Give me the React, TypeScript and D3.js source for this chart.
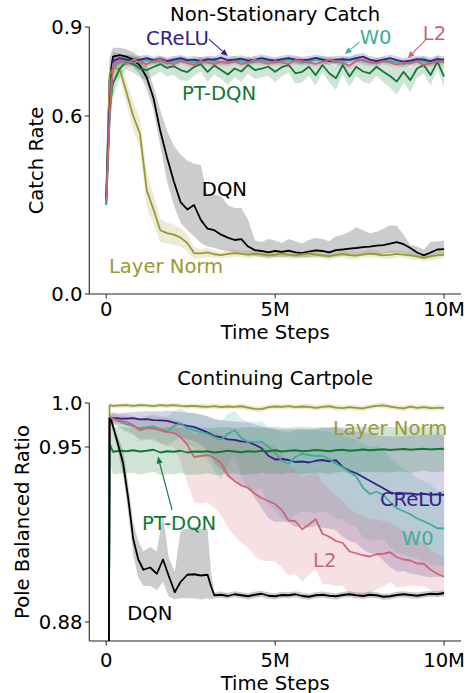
import React from "react";
import * as d3 from "d3";

const FONT = "'DejaVu Sans', sans-serif";
const FS = 19.6;

const COLORS: Record<string, string> = {
  DQN: "#000000",
  "Layer Norm": "#999933",
  CReLU: "#332288",
  W0: "#44AA99",
  L2: "#CC6677",
  "PT-DQN": "#117733",
};

// time in millions of steps
const timeGrid = [0, 0.1, 0.2, 0.4, 0.6, 0.8, 1, 1.2, 1.4, 1.6, 1.8, 2, 2.2, 2.4, 2.6, 2.8, 3, 3.2, 3.4, 3.6, 3.8, 4, 4.2, 4.4, 4.6, 4.8, 5, 5.2, 5.4, 5.6, 5.8, 6, 6.2, 6.4, 6.6, 6.8, 7, 7.2, 7.4, 7.6, 7.8, 8, 8.2, 8.4, 8.6, 8.8, 9, 9.2, 9.4, 9.6, 9.8, 10];
const dqnCartTime = [0, 0.1, 0.15, 0.3, 0.5, 0.65, 0.8, 0.95, 1.1, 1.3, 1.5, 1.68, 1.85, 2.03, 2.2, 2.4, 2.6, 2.8, 3, 3.1, 3.2, 3.4, 3.6, 3.8, 4, 4.2, 4.4, 4.6, 4.8, 5, 5.2, 5.4, 5.6, 5.8, 6, 6.2, 6.4, 6.6, 6.8, 7, 7.2, 7.4, 7.6, 7.8, 8, 8.2, 8.4, 8.6, 8.8, 9, 9.2, 9.4, 9.6, 9.8, 10];

const xTicks = [0, 5, 10];
const xTickLabels = ["0", "5M", "10M"];
const catchTicks = [0, 0.6, 0.9];
const catchTickLabels = ["0.0", "0.6", "0.9"];
const cartTicks = [0.88, 0.95, 1.0];
const cartTickLabels = ["0.88", "0.95", "1.0"];

// ---------- Non-Stationary Catch ----------
const catchCReLU = [0.32, 0.62, 0.785, 0.795, 0.79, 0.786, 0.79, 0.795, 0.788, 0.792, 0.785, 0.79, 0.795, 0.788, 0.79, 0.785, 0.792, 0.79, 0.797, 0.788, 0.79, 0.793, 0.787, 0.79, 0.795, 0.79, 0.787, 0.792, 0.795, 0.79, 0.788, 0.79, 0.796, 0.79, 0.785, 0.79, 0.792, 0.789, 0.795, 0.8, 0.79, 0.785, 0.79, 0.795, 0.788, 0.783, 0.787, 0.792, 0.79, 0.785, 0.792, 0.79];
const catchL2 = [0.31, 0.6, 0.775, 0.785, 0.775, 0.79, 0.78, 0.775, 0.785, 0.79, 0.78, 0.775, 0.785, 0.778, 0.772, 0.785, 0.78, 0.775, 0.782, 0.778, 0.785, 0.775, 0.78, 0.79, 0.782, 0.776, 0.785, 0.78, 0.776, 0.788, 0.785, 0.78, 0.776, 0.782, 0.79, 0.785, 0.778, 0.77, 0.785, 0.79, 0.782, 0.778, 0.785, 0.78, 0.772, 0.78, 0.776, 0.785, 0.772, 0.778, 0.785, 0.78];
const catchW0 = [0.3, 0.58, 0.765, 0.78, 0.785, 0.78, 0.785, 0.79, 0.782, 0.785, 0.778, 0.785, 0.79, 0.785, 0.78, 0.782, 0.788, 0.785, 0.78, 0.785, 0.79, 0.785, 0.78, 0.782, 0.788, 0.785, 0.78, 0.785, 0.79, 0.786, 0.78, 0.785, 0.788, 0.792, 0.785, 0.78, 0.785, 0.79, 0.795, 0.785, 0.78, 0.782, 0.788, 0.785, 0.78, 0.776, 0.782, 0.788, 0.785, 0.78, 0.785, 0.783];
const catchNarrowSpread = [0.01, 0.06, 0.03, 0.015, 0.012, 0.012, 0.013, 0.012, 0.011, 0.012, 0.013, 0.012, 0.011, 0.012, 0.012, 0.013, 0.012, 0.011, 0.012, 0.013, 0.012, 0.012, 0.011, 0.012, 0.013, 0.012, 0.012, 0.011, 0.012, 0.013, 0.012, 0.012, 0.011, 0.012, 0.013, 0.012, 0.012, 0.011, 0.012, 0.013, 0.012, 0.012, 0.011, 0.012, 0.013, 0.012, 0.012, 0.011, 0.012, 0.013, 0.012, 0.012];
const catchPTDQN = [0.3, 0.62, 0.71, 0.76, 0.783, 0.775, 0.76, 0.755, 0.765, 0.775, 0.762, 0.768, 0.755, 0.748, 0.765, 0.775, 0.749, 0.77, 0.755, 0.74, 0.76, 0.75, 0.772, 0.755, 0.76, 0.766, 0.749, 0.765, 0.772, 0.744, 0.749, 0.766, 0.738, 0.772, 0.744, 0.727, 0.772, 0.733, 0.766, 0.75, 0.744, 0.766, 0.749, 0.735, 0.716, 0.749, 0.721, 0.76, 0.772, 0.738, 0.783, 0.733];
const catchPTDQNSpread = [0.02, 0.06, 0.05, 0.03, 0.025, 0.03, 0.03, 0.035, 0.03, 0.025, 0.03, 0.03, 0.035, 0.03, 0.03, 0.025, 0.035, 0.03, 0.03, 0.035, 0.03, 0.035, 0.03, 0.03, 0.03, 0.03, 0.035, 0.03, 0.025, 0.035, 0.035, 0.03, 0.035, 0.025, 0.03, 0.04, 0.03, 0.035, 0.03, 0.035, 0.035, 0.03, 0.035, 0.04, 0.045, 0.035, 0.04, 0.03, 0.03, 0.035, 0.025, 0.035];
const catchDQN = [0.32, 0.72, 0.8, 0.805, 0.8, 0.79, 0.77, 0.73, 0.66, 0.55, 0.46, 0.38, 0.31, 0.285, 0.3, 0.25, 0.22, 0.215, 0.2, 0.19, 0.182, 0.185, 0.16, 0.148, 0.145, 0.14, 0.145, 0.142, 0.146, 0.14, 0.138, 0.143, 0.147, 0.145, 0.14, 0.148, 0.15, 0.153, 0.155, 0.158, 0.16, 0.163, 0.165, 0.17, 0.175, 0.168, 0.155, 0.14, 0.13, 0.14, 0.15, 0.151];
const catchDQNLow = [0.3, 0.65, 0.77, 0.78, 0.775, 0.765, 0.74, 0.69, 0.62, 0.5, 0.38, 0.3, 0.24, 0.215, 0.195, 0.172, 0.16, 0.155, 0.148, 0.145, 0.14, 0.135, 0.13, 0.128, 0.125, 0.123, 0.125, 0.124, 0.126, 0.123, 0.122, 0.124, 0.126, 0.125, 0.122, 0.126, 0.128, 0.13, 0.13, 0.132, 0.133, 0.135, 0.136, 0.138, 0.14, 0.138, 0.13, 0.122, 0.118, 0.122, 0.13, 0.132];
const catchDQNHigh = [0.34, 0.8, 0.83, 0.83, 0.825, 0.815, 0.8, 0.77, 0.7, 0.62, 0.55, 0.5, 0.47, 0.45, 0.44, 0.435, 0.33, 0.335, 0.33, 0.3, 0.29, 0.29, 0.25, 0.18, 0.175, 0.185, 0.18, 0.172, 0.185, 0.178, 0.17, 0.182, 0.19, 0.185, 0.178, 0.195, 0.2, 0.21, 0.225, 0.215, 0.205, 0.21, 0.22, 0.232, 0.23, 0.2, 0.165, 0.16, 0.15, 0.175, 0.178, 0.18];
const catchLayerNorm = [0.3, 0.74, 0.762, 0.758, 0.68, 0.6, 0.54, 0.35, 0.285, 0.215, 0.205, 0.2, 0.19, 0.172, 0.138, 0.137, 0.14, 0.134, 0.131, 0.135, 0.138, 0.135, 0.133, 0.136, 0.134, 0.13, 0.133, 0.136, 0.132, 0.13, 0.134, 0.137, 0.133, 0.13, 0.128, 0.132, 0.135, 0.131, 0.129, 0.133, 0.136, 0.134, 0.13, 0.132, 0.135, 0.133, 0.13, 0.127, 0.122, 0.128, 0.13, 0.132];
const catchLayerNormSpread = [0.01, 0.04, 0.03, 0.03, 0.04, 0.05, 0.05, 0.06, 0.05, 0.04, 0.035, 0.035, 0.03, 0.03, 0.02, 0.015, 0.015, 0.012, 0.01, 0.014, 0.012, 0.01, 0.014, 0.012, 0.01, 0.014, 0.012, 0.01, 0.014, 0.012, 0.01, 0.014, 0.012, 0.01, 0.014, 0.012, 0.01, 0.014, 0.012, 0.01, 0.014, 0.012, 0.01, 0.014, 0.012, 0.01, 0.014, 0.012, 0.01, 0.014, 0.012, 0.012];

// ---------- Continuing Cartpole ----------
const cartLayerNorm = [0.5, 0.9975, 0.9968, 0.9972, 0.9975, 0.9968, 0.9975, 0.9972, 0.9965, 0.9975, 0.997, 0.9975, 0.9968, 0.9963, 0.9968, 0.996, 0.9957, 0.9965, 0.9953, 0.996, 0.9956, 0.9963, 0.9948, 0.9934, 0.993, 0.9953, 0.996, 0.9957, 0.9965, 0.9953, 0.996, 0.9957, 0.9945, 0.9956, 0.9963, 0.9948, 0.9942, 0.9953, 0.9945, 0.9938, 0.9957, 0.9968, 0.9972, 0.996, 0.9948, 0.9938, 0.996, 0.9945, 0.9953, 0.9942, 0.9945, 0.9944];
const cartLayerNormSpread = [0.003, 0.0025, 0.0025, 0.0026, 0.0025, 0.0027, 0.0026, 0.0025, 0.0027, 0.0026, 0.0028, 0.0026, 0.0027, 0.0028, 0.0027, 0.0028, 0.0029, 0.0028, 0.003, 0.0029, 0.0028, 0.003, 0.0031, 0.0032, 0.0032, 0.003, 0.0029, 0.003, 0.0029, 0.0031, 0.003, 0.0031, 0.0032, 0.003, 0.0031, 0.0032, 0.0033, 0.0031, 0.0032, 0.0033, 0.003, 0.0029, 0.0028, 0.003, 0.0032, 0.0033, 0.003, 0.0032, 0.0031, 0.0032, 0.0031, 0.0032];
const cartCReLU = [0.5, 0.9832, 0.9832, 0.9824, 0.9822, 0.9827, 0.9814, 0.9817, 0.9806, 0.9802, 0.9796, 0.9777, 0.976, 0.974, 0.9728, 0.9698, 0.9666, 0.9624, 0.9611, 0.9586, 0.9581, 0.9564, 0.9559, 0.9525, 0.9495, 0.9465, 0.945, 0.9452, 0.9448, 0.944, 0.9442, 0.9438, 0.9445, 0.9448, 0.9443, 0.9447, 0.942, 0.9405, 0.9395, 0.938, 0.9365, 0.935, 0.9335, 0.932, 0.9311, 0.9314, 0.9314, 0.931, 0.9313, 0.9309, 0.9311, 0.9308];
const cartCReLUSpread = [0.003, 0.004, 0.006, 0.006, 0.007, 0.007, 0.009, 0.009, 0.01, 0.01, 0.012, 0.013, 0.014, 0.015, 0.016, 0.017, 0.018, 0.019, 0.02, 0.021, 0.021, 0.022, 0.022, 0.023, 0.024, 0.025, 0.025, 0.025, 0.025, 0.026, 0.026, 0.026, 0.026, 0.027, 0.027, 0.028, 0.028, 0.028, 0.028, 0.029, 0.029, 0.028, 0.029, 0.03, 0.031, 0.031, 0.032, 0.032, 0.033, 0.033, 0.033, 0.033];
const cartW0 = [0.5, 0.9832, 0.9824, 0.9787, 0.9756, 0.9737, 0.9713, 0.9725, 0.9734, 0.9702, 0.968, 0.9737, 0.9771, 0.9713, 0.9688, 0.9669, 0.9651, 0.9613, 0.9581, 0.9651, 0.9691, 0.9601, 0.9558, 0.9558, 0.9562, 0.9502, 0.9477, 0.9444, 0.9433, 0.946, 0.9473, 0.9468, 0.9464, 0.9465, 0.9452, 0.9433, 0.9419, 0.9399, 0.9382, 0.9337, 0.9312, 0.9321, 0.9309, 0.928, 0.9255, 0.9243, 0.9231, 0.9214, 0.9203, 0.919, 0.9175, 0.9174];
const cartW0Spread = [0.003, 0.004, 0.006, 0.007, 0.009, 0.01, 0.012, 0.013, 0.014, 0.015, 0.016, 0.017, 0.017, 0.018, 0.019, 0.02, 0.02, 0.021, 0.021, 0.022, 0.022, 0.022, 0.023, 0.023, 0.023, 0.023, 0.023, 0.023, 0.023, 0.023, 0.023, 0.023, 0.023, 0.022, 0.022, 0.022, 0.021, 0.021, 0.02, 0.02, 0.019, 0.019, 0.018, 0.018, 0.018, 0.017, 0.017, 0.016, 0.016, 0.016, 0.015, 0.015];
const cartL2 = [0.5, 0.9824, 0.9818, 0.9801, 0.9783, 0.975, 0.9688, 0.9713, 0.971, 0.9688, 0.9669, 0.9661, 0.9613, 0.9527, 0.946, 0.9464, 0.9468, 0.9456, 0.9436, 0.9387, 0.9364, 0.9346, 0.9336, 0.9313, 0.9296, 0.9284, 0.9272, 0.9247, 0.9206, 0.9203, 0.9171, 0.919, 0.9211, 0.9153, 0.9141, 0.9124, 0.9116, 0.9082, 0.9075, 0.9067, 0.9062, 0.9071, 0.9073, 0.9079, 0.9059, 0.905, 0.9046, 0.9034, 0.9033, 0.9009, 0.8993, 0.8981];
const cartL2Spread = [0.003, 0.004, 0.006, 0.007, 0.009, 0.01, 0.012, 0.013, 0.014, 0.015, 0.016, 0.016, 0.017, 0.017, 0.018, 0.019, 0.019, 0.02, 0.021, 0.021, 0.022, 0.023, 0.024, 0.025, 0.025, 0.024, 0.023, 0.023, 0.022, 0.021, 0.021, 0.02, 0.02, 0.02, 0.019, 0.018, 0.017, 0.017, 0.016, 0.016, 0.015, 0.014, 0.013, 0.012, 0.012, 0.011, 0.01, 0.009, 0.009, 0.008, 0.008, 0.008];
const cartPTDQN = [0.5, 0.9539, 0.9481, 0.9485, 0.9483, 0.9487, 0.9482, 0.9485, 0.9489, 0.9478, 0.9483, 0.9481, 0.9485, 0.9478, 0.9482, 0.9481, 0.9483, 0.9478, 0.9481, 0.9485, 0.9482, 0.9479, 0.9483, 0.9481, 0.9485, 0.9483, 0.9487, 0.9482, 0.9485, 0.9487, 0.9483, 0.9485, 0.9488, 0.9486, 0.9483, 0.9487, 0.9489, 0.9485, 0.9487, 0.949, 0.9487, 0.9489, 0.9491, 0.9488, 0.949, 0.9492, 0.9489, 0.9491, 0.9493, 0.949, 0.9492, 0.9493];
const cartPTDQNSpreadUp = [0.024, 0.024, 0.024, 0.0245, 0.0235, 0.024, 0.0245, 0.024, 0.0235, 0.024, 0.0245, 0.024, 0.0235, 0.024, 0.0245, 0.024, 0.0235, 0.024, 0.0245, 0.024, 0.0235, 0.024, 0.0245, 0.024, 0.0235, 0.024, 0.0245, 0.024, 0.0235, 0.024, 0.0245, 0.024, 0.0235, 0.024, 0.0245, 0.024, 0.0235, 0.024, 0.0245, 0.024, 0.0235, 0.024, 0.0245, 0.024, 0.0235, 0.024, 0.0245, 0.024, 0.0235, 0.024, 0.0245, 0.024];
const cartPTDQNSpreadDown = [0.009, 0.009, 0.009, 0.0092, 0.0088, 0.009, 0.0092, 0.009, 0.0088, 0.009, 0.0092, 0.009, 0.0088, 0.009, 0.0092, 0.009, 0.0088, 0.009, 0.0092, 0.009, 0.0088, 0.009, 0.0092, 0.009, 0.0088, 0.009, 0.0092, 0.009, 0.0088, 0.009, 0.0092, 0.009, 0.0088, 0.009, 0.0092, 0.009, 0.0088, 0.009, 0.0092, 0.009, 0.0088, 0.009, 0.0092, 0.009, 0.0088, 0.009, 0.0092, 0.009, 0.0088, 0.009, 0.0092, 0.009];
const cartDQN = [0.5, 0.9824, 0.9801, 0.9601, 0.9436, 0.9296, 0.9132, 0.905, 0.9009, 0.9018, 0.8993, 0.905, 0.8985, 0.8919, 0.896, 0.8989, 0.8991, 0.8986, 0.8989, 0.8944, 0.8907, 0.8909, 0.8904, 0.8911, 0.8907, 0.8903, 0.8909, 0.8913, 0.8905, 0.8903, 0.8908, 0.8907, 0.8911, 0.8904, 0.8901, 0.8907, 0.8909, 0.8905, 0.8903, 0.8908, 0.8911, 0.8907, 0.8904, 0.8909, 0.8907, 0.8901, 0.8903, 0.8908, 0.8911, 0.8908, 0.8905, 0.8909, 0.8913, 0.8911, 0.8916];
const cartDQNLow = [0.49, 0.9787, 0.9755, 0.9539, 0.9387, 0.9239, 0.9067, 0.8977, 0.8944, 0.8944, 0.8927, 0.896, 0.8903, 0.889, 0.8895, 0.8895, 0.8895, 0.889, 0.8895, 0.889, 0.8895, 0.8896, 0.8893, 0.8899, 0.8895, 0.889, 0.8896, 0.89, 0.8893, 0.889, 0.8896, 0.8895, 0.8899, 0.8892, 0.8889, 0.8895, 0.8897, 0.8893, 0.889, 0.8896, 0.8899, 0.8895, 0.8892, 0.8897, 0.8895, 0.8889, 0.889, 0.8896, 0.8899, 0.8895, 0.8893, 0.8897, 0.89, 0.8899, 0.8903];
const cartDQNHigh = [0.51, 0.9862, 0.9849, 0.9663, 0.9485, 0.9354, 0.9198, 0.9124, 0.9083, 0.91, 0.9083, 0.9231, 0.9059, 0.9001, 0.9165, 0.9173, 0.9182, 0.9173, 0.9173, 0.9001, 0.8919, 0.8922, 0.8917, 0.8923, 0.8919, 0.8915, 0.8922, 0.8925, 0.8918, 0.8915, 0.8921, 0.8919, 0.8923, 0.8917, 0.8913, 0.8919, 0.8922, 0.8918, 0.8915, 0.8921, 0.8923, 0.8919, 0.8917, 0.8922, 0.8919, 0.8913, 0.8915, 0.8921, 0.8923, 0.892, 0.8918, 0.8922, 0.8925, 0.8923, 0.8927];

type Series = { name: string; t: number[]; mean: number[]; lo: number[]; hi: number[] };

function spreadSeries(name: string, t: number[], mean: number[], up: number[], down: number[] = up): Series {
  const at = (a: number[], i: number) => a[i] ?? a[a.length - 1];
  return {
    name,
    t,
    mean,
    lo: mean.map((v, i) => v - at(down, i)),
    hi: mean.map((v, i) => v + at(up, i)),
  };
}

const catchSeries: Series[] = [
  { name: "DQN", t: timeGrid, mean: catchDQN, lo: catchDQNLow, hi: catchDQNHigh },
  spreadSeries("Layer Norm", timeGrid, catchLayerNorm, catchLayerNormSpread),
  spreadSeries("PT-DQN", timeGrid, catchPTDQN, catchPTDQNSpread),
  spreadSeries("W0", timeGrid, catchW0, catchNarrowSpread),
  spreadSeries("CReLU", timeGrid, catchCReLU, catchNarrowSpread),
  spreadSeries("L2", timeGrid, catchL2, catchNarrowSpread),
];

const cartSeries: Series[] = [
  spreadSeries("Layer Norm", timeGrid, cartLayerNorm, cartLayerNormSpread),
  spreadSeries("CReLU", timeGrid, cartCReLU, cartCReLUSpread),
  spreadSeries("W0", timeGrid, cartW0, cartW0Spread),
  spreadSeries("L2", timeGrid, cartL2, cartL2Spread),
  spreadSeries("PT-DQN", timeGrid, cartPTDQN, cartPTDQNSpreadUp, cartPTDQNSpreadDown),
  { name: "DQN", t: dqnCartTime, mean: cartDQN, lo: cartDQNLow, hi: cartDQNHigh },
];

type Note = { text: string; t: number; v: number; from?: [number, number]; to?: [number, number] };

const catchNotes: Note[] = [
  { text: "CReLU", t: 1.18, v: 0.839, from: [3.04, 0.859], to: [3.6, 0.802] },
  { text: "W0", t: 7.5, v: 0.843, from: [7.5, 0.849], to: [7.06, 0.809] },
  { text: "L2", t: 9.37, v: 0.856, from: [9.45, 0.856], to: [8.92, 0.795] },
  { text: "PT-DQN", t: 2.24, v: 0.654 },
  { text: "DQN", t: 2.83, v: 0.33 },
  { text: "Layer Norm", t: 0.08, v: 0.071 },
];

const cartNotes: Note[] = [
  { text: "Layer Norm", t: 6.71, v: 0.9636 },
  { text: "CReLU", t: 8.1, v: 0.9264 },
  { text: "PT-DQN", t: 1.06, v: 0.9168, from: [1.95, 0.9248], to: [1.53, 0.9462] },
  { text: "W0", t: 8.75, v: 0.9108 },
  { text: "L2", t: 6.12, v: 0.902 },
  { text: "DQN", t: 0.62, v: 0.8808 },
];

type PanelCfg = {
  id: string;
  top: number;
  bottom: number;
  yDomain: number[];
  yRange: number[];
  yTicks: number[];
  yTickLabels: string[];
  title: string;
  titleY: number;
  ylabel: string;
  ylabelX: number;
  xlabelY: number;
  xTickLabelY: number;
  series: Series[];
  notes: Note[];
};

const X_LEFT = 89.3;
const X_RIGHT = 461;
const X_DOMAIN: [number, number] = [-0.5, 10.5];

function Panel({ cfg }: { cfg: PanelCfg }) {
  const x = d3.scaleLinear().domain(X_DOMAIN).range([X_LEFT, X_RIGHT]);
  const y = d3.scaleLinear().domain(cfg.yDomain).range(cfg.yRange);
  const mkLine = (s: Series) =>
    d3
      .line<number>()
      .x((d) => x(s.t[d]))
      .y((d) => y(s.mean[d]))(d3.range(Math.min(s.t.length, s.mean.length)));
  const mkArea = (s: Series) =>
    d3
      .area<number>()
      .x((d) => x(s.t[d]))
      .y0((d) => y(s.lo[d]))
      .y1((d) => y(s.hi[d]))(d3.range(Math.min(s.t.length, s.lo.length, s.hi.length)));
  const clipId = `clip-${cfg.id}`;
  const cx = (X_LEFT + X_RIGHT) / 2;
  return (
    <g>
      <defs>
        <clipPath id={clipId}>
          <rect x={X_LEFT} y={cfg.top - 5} width={X_RIGHT - X_LEFT} height={cfg.bottom - cfg.top + 5} />
        </clipPath>
      </defs>
      <g clipPath={`url(#${clipId})`}>
        {cfg.series.map((s) => (
          <path key={"b" + s.name} d={mkArea(s) || ""} fill={COLORS[s.name]} fillOpacity={0.2} stroke="none" />
        ))}
        {cfg.series.map((s) => (
          <path
            key={"l" + s.name}
            d={mkLine(s) || ""}
            fill="none"
            stroke={COLORS[s.name]}
            strokeWidth={1.8}
            strokeLinejoin="round"
          />
        ))}
      </g>
      <line x1={X_LEFT} x2={X_LEFT} y1={cfg.top} y2={cfg.bottom} stroke="#222" strokeWidth={1.1} />
      <line x1={X_LEFT} x2={X_RIGHT} y1={cfg.bottom} y2={cfg.bottom} stroke="#222" strokeWidth={1.1} />
      {cfg.yTicks.map((tv, i) => (
        <g key={"yt" + i}>
          <line x1={X_LEFT - 4.5} x2={X_LEFT} y1={y(tv)} y2={y(tv)} stroke="#222" strokeWidth={1} />
          <text x={82.5} y={y(tv) + 7} textAnchor="end" fontSize={FS} fill="#000">
            {cfg.yTickLabels[i]}
          </text>
        </g>
      ))}
      {xTicks.map((tv, i) => (
        <g key={"xt" + i}>
          <line x1={x(tv)} x2={x(tv)} y1={cfg.bottom} y2={cfg.bottom + 4.5} stroke="#222" strokeWidth={1} />
          <text x={x(tv)} y={cfg.xTickLabelY} textAnchor="middle" fontSize={FS} fill="#000">
            {xTickLabels[i]}
          </text>
        </g>
      ))}
      <text x={cx} y={cfg.xlabelY} textAnchor="middle" fontSize={FS} fill="#000">
        Time Steps
      </text>
      <text x={cx} y={cfg.titleY} textAnchor="middle" fontSize={FS} fill="#000">
        {cfg.title}
      </text>
      <text
        transform={`translate(${cfg.ylabelX},${(cfg.top + cfg.bottom) / 2}) rotate(-90)`}
        textAnchor="middle"
        fontSize={FS}
        fill="#000"
      >
        {cfg.ylabel}
      </text>
      {cfg.notes.map((n, i) => {
        const color = COLORS[n.text];
        let arrow = null;
        if (n.from && n.to) {
          const x1 = x(n.from[0]);
          const y1 = y(n.from[1]);
          const x2 = x(n.to[0]);
          const y2 = y(n.to[1]);
          const ang = Math.atan2(y2 - y1, x2 - x1);
          const hl = 7;
          const hw = 3;
          const bx = x2 - hl * Math.cos(ang);
          const by = y2 - hl * Math.sin(ang);
          const px = -Math.sin(ang) * hw;
          const py = Math.cos(ang) * hw;
          arrow = (
            <g>
              <line x1={x1} y1={y1} x2={bx} y2={by} stroke={color} strokeWidth={1.1} />
              <polygon points={`${x2},${y2} ${bx + px},${by + py} ${bx - px},${by - py}`} fill={color} />
            </g>
          );
        }
        return (
          <g key={"n" + i}>
            {arrow}
            <text x={x(n.t)} y={y(n.v)} fontSize={FS} fill={color}>
              {n.text}
            </text>
          </g>
        );
      })}
    </g>
  );
}

const panels: PanelCfg[] = [
  {
    id: "catch",
    top: 27,
    bottom: 294,
    yDomain: [0, 0.9],
    yRange: [294, 27],
    yTicks: catchTicks,
    yTickLabels: catchTickLabels,
    title: "Non-Stationary Catch",
    titleY: 21,
    ylabel: "Catch Rate",
    ylabelX: 43,
    xlabelY: 339,
    xTickLabelY: 316,
    series: catchSeries,
    notes: catchNotes,
  },
  {
    id: "cart",
    top: 403,
    bottom: 641,
    yDomain: [0.8724, 0.95, 1.0],
    yRange: [641, 447, 403],
    yTicks: cartTicks,
    yTickLabels: cartTickLabels,
    title: "Continuing Cartpole",
    titleY: 385,
    ylabel: "Pole Balanced Ratio",
    ylabelX: 29,
    xlabelY: 689.5,
    xTickLabelY: 666.5,
    series: cartSeries,
    notes: cartNotes,
  },
];

export default function App() {
  return (
    <svg
      width={467}
      height={693}
      viewBox="0 0 467 693"
      style={{ position: "absolute", left: 0, top: 0, background: "#fff" }}
      fontFamily={FONT}
    >
      <rect x={0} y={0} width={467} height={693} fill="#fff" />
      {panels.map((p) => (
        <Panel key={p.id} cfg={p} />
      ))}
    </svg>
  );
}
